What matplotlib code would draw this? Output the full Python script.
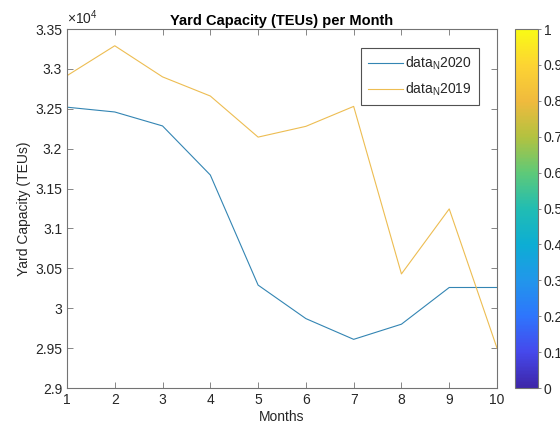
import numpy as np
import matplotlib
matplotlib.use('Agg')
import matplotlib.pyplot as plt
from matplotlib.colors import LinearSegmentedColormap
from matplotlib.colorbar import ColorbarBase
from matplotlib.colors import Normalize

#------------------------------------------------------------#
# data                                                       #
#------------------------------------------------------------#

months = [1, 2, 3, 4, 5, 6, 7, 8, 9, 10]
data_2020 = [32520, 32460, 32285, 31670, 30290, 29870, 29610, 29800, 30260, 30260]
data_2019 = [32915, 33290, 32900, 32660, 32145, 32280, 32530, 30430, 31245, 29500]

ytick_vals = [29000, 29500, 30000, 30500, 31000, 31500, 32000, 32500, 33000, 33500]
cbar_ticks = [0, 0.1, 0.2, 0.3, 0.4, 0.5, 0.6, 0.7, 0.8, 0.9, 1]

#------------------------------------------------------------#
# style                                                      #
#------------------------------------------------------------#

plt.rcParams['font.family'] = ['Liberation Sans', 'DejaVu Sans']
plt.rcParams['mathtext.fontset'] = 'custom'
plt.rcParams['mathtext.rm'] = 'Liberation Sans'
plt.rcParams['font.size'] = 10

grey = (0.15, 0.15, 0.15)
axis_col = (0.45, 0.45, 0.45)

# approximate matlab parula
parula = LinearSegmentedColormap.from_list('parula', [
    (0.0, (0.2422, 0.1504, 0.6603)),
    (0.1, (0.2720, 0.2850, 0.9250)),
    (0.2, (0.1800, 0.4600, 0.9900)),
    (0.3, (0.1300, 0.5900, 0.9200)),
    (0.4, (0.0500, 0.6800, 0.8300)),
    (0.5, (0.1300, 0.7400, 0.7000)),
    (0.6, (0.3700, 0.7900, 0.4700)),
    (0.7, (0.7000, 0.7600, 0.2500)),
    (0.8, (0.9400, 0.7300, 0.2400)),
    (0.9, (0.9900, 0.8300, 0.2000)),
    (1.0, (0.9769, 0.9839, 0.0805)),
])

#------------------------------------------------------------#
# plot                                                       #
#------------------------------------------------------------#

fig = plt.figure(figsize=(5.6, 4.33), dpi=100)
ax = fig.add_axes([0.1196, 0.1039, 0.7679, 0.8291])

ax.plot(months, data_2020, color=(0.2, 0.52, 0.7), lw=0.8,
        label=r'data$_\mathregular{N}$2020')
ax.plot(months, data_2019, color=(0.93, 0.74, 0.32), lw=0.8,
        label=r'data$_\mathregular{N}$2019')

ax.set_xlim(1, 10)
ax.set_ylim(29000, 33500)
ax.set_xticks(months)
ax.set_yticks(ytick_vals)
ax.set_yticklabels(['%g' % (v / 1e4) for v in ytick_vals])

ax.tick_params(direction='in', top=True, right=True, length=4, width=0.6,
               colors=axis_col, labelcolor=grey, labelsize=10)
for pos in ax.spines:
    ax.spines[pos].set_color(axis_col)
    ax.spines[pos].set_linewidth(0.8)

ax.text(0.0, 1.005, r'$\times10^{4}$', transform=ax.transAxes,
        ha='left', va='bottom', color=grey, fontsize=10)
ax.set_title('Yard Capacity (TEUs) per Month', fontweight='bold',
             fontsize=10.5, color='k', pad=3)
ax.set_xlabel('Months', color=grey, labelpad=2)
ax.set_ylabel('Yard Capacity (TEUs)', color=grey, labelpad=3)

leg = ax.legend(loc='upper right', bbox_to_anchor=(0.958, 0.947),
                borderaxespad=0, frameon=True, fancybox=False, fontsize=10,
                handlelength=2.5, borderpad=0.5, labelspacing=0.6,
                handletextpad=0.15)
leg.get_frame().set_edgecolor(grey)
leg.get_frame().set_linewidth(0.8)
for t in leg.get_texts():
    t.set_color(grey)

cax = fig.add_axes([0.9196, 0.1039, 0.0411, 0.8291])
cb = ColorbarBase(cax, cmap=parula, norm=Normalize(0, 1))
cb.set_ticks(cbar_ticks)
cb.set_ticklabels(['%g' % t for t in cbar_ticks])
cb.outline.set_edgecolor(axis_col)
cb.outline.set_linewidth(0.8)
cax.tick_params(direction='out', length=2, width=0.6, colors=axis_col,
                labelcolor=grey, labelsize=10, pad=2)

fig.savefig('out.png', dpi=100)
